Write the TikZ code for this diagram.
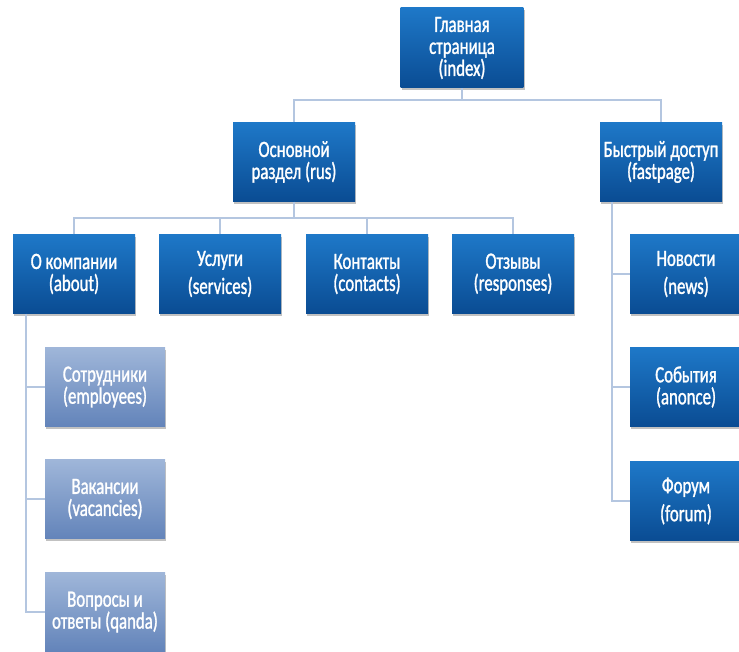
\documentclass[tikz,border=0pt]{standalone}
\usepackage{fontspec}
\setmainfont[FakeStretch=0.72,FakeBold=1.2]{Carlito}
\usetikzlibrary{shadows}
\definecolor{linec}{HTML}{B4C6E0}
\definecolor{mtop}{HTML}{1E78C8}
\definecolor{mbot}{HTML}{0A4C93}
\definecolor{stop}{HTML}{9FB6D9}
\definecolor{sbot}{HTML}{6384BA}
\tikzset{
  mainbox/.style={rectangle, minimum width=91.5pt, minimum height=59pt, inner sep=0pt,
    align=center, text=white, top color=mtop, bottom color=mbot, draw=none,
    font=\fontsize{17.5}{16.5}\selectfont,
    drop shadow={shadow xshift=1pt, shadow yshift=-1.8pt, opacity=0.35, fill=black!70}},
  subbox/.style={mainbox, top color=stop, bottom color=sbot, minimum width=90pt},
  conn/.style={draw=linec, line width=1.3pt}
}
\begin{document}
\begin{tikzpicture}[x=0.75pt,y=-0.75pt]
\useasboundingbox (0,0) rectangle (739,652);
% level 1
\node[mainbox, minimum width=92pt, minimum height=60pt] (index) at (462,48) {Главная\\страница\\(index)};
% level 2
\node[mainbox] (rus) at (294,162) {Основной\\раздел (rus)};
\node[mainbox] (fast) at (661,162) {Быстрый доступ\\(fastpage)};
% level 3
\node[mainbox] (about) at (74,274) {О компании\\(about)};
\node[mainbox] (serv) at (220,274) {Услуги\\[4.5pt](services)};
\node[mainbox] (cont) at (367,274) {Контакты\\(contacts)};
\node[mainbox] (resp) at (513,274) {Отзывы\\(responses)};
% left sub column
\node[subbox] (emp) at (105,387) {Сотрудники\\(employees)};
\node[subbox] (vac) at (105,499) {Вакансии\\(vacancies)};
\node[subbox] (qanda) at (105,612) {Вопросы и\\ответы (qanda)};
% right sub column
\node[mainbox, minimum width=84pt] (news) at (686,274) {Новости\\[4.5pt](news)};
\node[mainbox, minimum width=84pt] (event) at (686,387) {События\\(anonce)};
\node[mainbox, minimum width=84pt] (forum) at (686,501) {Форум\\[4.5pt](forum)};
% junctions
\coordinate (j1) at (462,100);
\coordinate (j2) at (294,218);
\coordinate (aL) at (26,0);
\coordinate (fL) at (612,0);
% connectors
\draw[conn] (index.south) -- (j1);
\draw[conn] (rus.north) -- (rus.north |- j1) -| (fast.north);
\draw[conn] (rus.south) -- (j2);
\draw[conn] (about.north) -- (about.north |- j2) -| (resp.north);
\draw[conn] (serv.north) -- (serv.north |- j2);
\draw[conn] (cont.north) -- (cont.north |- j2);
\draw[conn] (aL |- about.south) -- (aL |- qanda.west) -- (qanda.west);
\draw[conn] (aL |- emp.west) -- (emp.west);
\draw[conn] (aL |- vac.west) -- (vac.west);
\draw[conn] (fL |- fast.south) -- (fL |- forum.west) -- (forum.west);
\draw[conn] (fL |- news.west) -- (news.west);
\draw[conn] (fL |- event.west) -- (event.west);
\end{tikzpicture}
\end{document}
